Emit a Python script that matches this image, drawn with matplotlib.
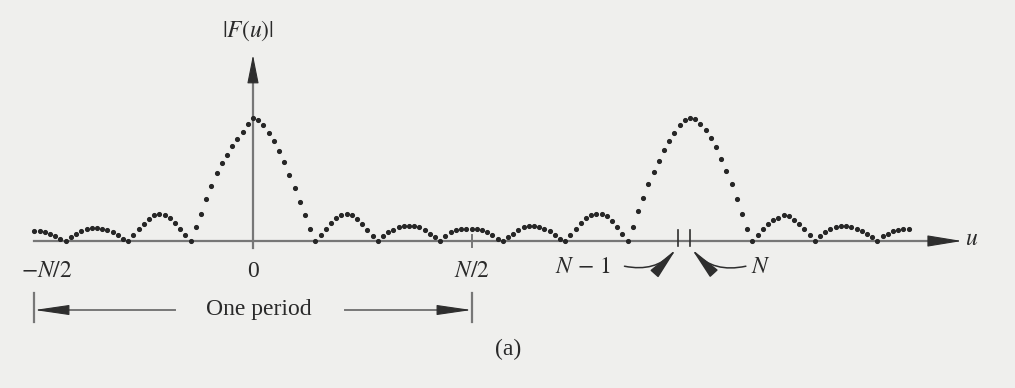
import numpy as np
import matplotlib
matplotlib.use('Agg')
import matplotlib.pyplot as plt

plt.rcParams['mathtext.fontset'] = 'stix'
plt.rcParams['font.family'] = ['Liberation Serif', 'DejaVu Serif']

N = 36                  # period of the spectrum, in u units
DOTS_PER_PERIOD = 84    # dots drawn per period
first_dot = -42         # index of the first dot (at -N/2)

# |F(u)| along the dotted curve, lobe by lobe; each list starts at its left zero
tail_left = [0.08, 0.08, 0.07, 0.06, 0.04, 0.02]
side2_left = [0.0, 0.03, 0.06, 0.08, 0.10, 0.105, 0.105, 0.10, 0.09, 0.07, 0.05, 0.02]
side1_left = [0.0, 0.05, 0.10, 0.14, 0.18, 0.21, 0.22, 0.21, 0.19, 0.15, 0.10, 0.05]
main_0 = [0.0, 0.11, 0.22, 0.34, 0.45, 0.55, 0.63, 0.70, 0.77, 0.83, 0.89, 0.95,
          1.0, 0.98, 0.94, 0.88, 0.81, 0.73, 0.64, 0.54, 0.43, 0.32, 0.21, 0.10]
side1_right = [0.0, 0.05, 0.10, 0.15, 0.19, 0.21, 0.22, 0.21, 0.18, 0.14, 0.09, 0.04]
side2_right = [0.0, 0.04, 0.07, 0.09, 0.11, 0.12, 0.12, 0.12, 0.11, 0.09, 0.06, 0.03]
side3_mid = [0.0, 0.04, 0.07, 0.09, 0.10, 0.10, 0.10, 0.10, 0.09, 0.07, 0.05, 0.02]
side2_far = [0.0, 0.03, 0.06, 0.09, 0.11, 0.12, 0.12, 0.11, 0.10, 0.08, 0.05, 0.02]
side1_far = [0.0, 0.05, 0.10, 0.15, 0.19, 0.21, 0.22, 0.22, 0.20, 0.16, 0.11, 0.06]
main_N = [0.0, 0.11, 0.24, 0.35, 0.46, 0.56, 0.65, 0.74, 0.81, 0.88, 0.94, 0.98,
          1.0, 0.99, 0.95, 0.90, 0.84, 0.76, 0.67, 0.57, 0.46, 0.34, 0.22, 0.10]
side1_after = [0.0, 0.05, 0.10, 0.14, 0.17, 0.19, 0.21, 0.20, 0.17, 0.14, 0.10, 0.05]
side2_after = [0.0, 0.04, 0.07, 0.10, 0.11, 0.12, 0.12, 0.11, 0.10, 0.08, 0.06, 0.03]
tail_right = [0.0, 0.04, 0.06, 0.08, 0.09, 0.10, 0.10]

heights = np.concatenate([tail_left, side2_left, side1_left, main_0,
                          side1_right, side2_right, side3_mid, side2_far,
                          side1_far, main_N, side1_after, side2_after, tail_right])
k = np.arange(first_dot, first_dot + len(heights))
u = k * N / DOTS_PER_PERIOD

line_c = '#777777'
dark = '#2e2e2e'
txt_c = '#2a2a2a'
bg = '#efefed'

fig = plt.figure(figsize=(10.15, 3.88), dpi=100)
fig.patch.set_facecolor(bg)
ax = fig.add_axes([0, 0, 1, 1])
ax.set_facecolor(bg)
ax.set_xlim(-20.84, 62.77)
ax.set_ylim(-1.195, 1.959)
ax.axis('off')


def head(tip, tail, hl=1.1, hw=0.18):
    ax.annotate('', xy=tip, xytext=tail,
                arrowprops=dict(arrowstyle='-|>,head_length=%g,head_width=%g' % (hl, hw),
                                mutation_scale=20, color=dark, lw=0.8,
                                shrinkA=0, shrinkB=0))


# axes
ax.plot([-N / 2, 56.5], [0, 0], color=line_c, lw=1.6, zorder=1)
head((58.4, 0), (56.0, 0))
ax.plot([0, 0], [-0.06, 1.35], color=line_c, lw=1.6, zorder=1)
head((0, 1.512), (0, 1.30), hl=0.9, hw=0.18)

# ticks
ax.plot([N / 2, N / 2], [-0.05, 0.045], color=line_c, lw=1.4)
ax.plot([N - 1, N - 1], [-0.04, 0.09], color=dark, lw=1.2)
ax.plot([N, N], [-0.04, 0.09], color=dark, lw=1.2)

# the spectrum
ax.plot(u, heights, linestyle='none', marker='o', ms=2.7, color='#262626', zorder=3)

# labels
fs = 17
ax.text(-0.4, 1.66, r'$|\mathbf{\mathit{F}}(u)|$', ha='center', va='baseline',
        fontsize=fs, color=txt_c)
ax.text(59.2, -0.033, r'$u$', ha='center', va='baseline', fontsize=fs, color=txt_c)
ax.text(-N / 2 + 1.0, -0.293, r'$-N/2$', ha='center', va='baseline', fontsize=fs, color=txt_c)
ax.text(0, -0.293, '0', ha='center', va='baseline', fontsize=fs, color=txt_c)
ax.text(N / 2, -0.293, r'$N/2$', ha='center', va='baseline', fontsize=fs, color=txt_c)
ax.text(27.2, -0.26, r'$N\,-\,1$', ha='center', va='baseline', fontsize=fs, color=txt_c)
ax.text(41.8, -0.26, r'$N$', ha='center', va='baseline', fontsize=fs, color=txt_c)

# pointers to N-1 and N
ax.annotate('', xy=(N - 1, -0.05), xytext=(30.6, -0.205),
            arrowprops=dict(arrowstyle='-|>,head_length=1.1,head_width=0.18',
                            mutation_scale=18, color=dark, lw=1.1,
                            connectionstyle='arc3,rad=0.3', shrinkA=0, shrinkB=2))
ax.annotate('', xy=(N, -0.05), xytext=(40.6, -0.205),
            arrowprops=dict(arrowstyle='-|>,head_length=1.1,head_width=0.18',
                            mutation_scale=18, color=dark, lw=1.1,
                            connectionstyle='arc3,rad=-0.3', shrinkA=0, shrinkB=2))

# one period bracket
yb = -0.561
ax.plot([-N / 2, -N / 2], [-0.42, -0.66], color=line_c, lw=1.6)
ax.plot([N / 2, N / 2], [-0.42, -0.66], color=line_c, lw=1.6)
ax.plot([-15.5, -6.4], [yb, yb], color=line_c, lw=1.4)
head((-N / 2, yb), (-15.4, yb), hl=1.1, hw=0.16)
ax.plot([7.6, 15.5], [yb, yb], color=line_c, lw=1.4)
head((N / 2, yb), (15.4, yb), hl=1.1, hw=0.16)
ax.text(0.5, -0.60, 'One period', ha='center', va='baseline', fontsize=fs, color=txt_c)

ax.text(21.0, -0.927, '(a)', ha='center', va='baseline', fontsize=fs, color=txt_c)

plt.savefig('out.png', dpi=100, facecolor=fig.get_facecolor())
